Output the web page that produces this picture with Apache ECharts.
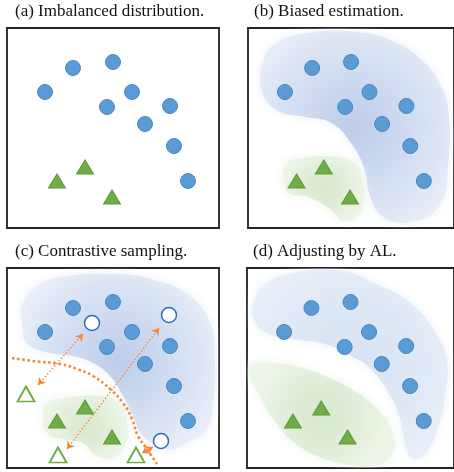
<!DOCTYPE html>
<html><head><meta charset="utf-8">
<script src="https://cdn.jsdelivr.net/npm/echarts@6/dist/echarts.min.js"></script>
<style>html,body{margin:0;padding:0;background:#fff}#c{width:454px;height:472px}</style>
</head><body><div id="c"></div>
<script>
// Panel titles
const titles = ['(a) Imbalanced distribution.', '(b) Biased estimation.', '(c) Contrastive sampling.', '(d) Adjusting by AL.'];
// Point positions (panel-relative units, y downwards)
const circles = [[66,40],[106,34],[38,64],[125,64],[100,79],[163,78],[138,96],[167,118],[181,153]];
const triangles = [[78,139],[50,153],[105,169]];
const trianglesD = [[76,140],[47,153],[103,169]];
const hollowCircles = [[85,55],[162,47],[154,173]];
const hollowTriangles = [[19,126],[51,187],[129,187]];
// Region outlines
const blueB = [[16,32],[29,15],[62,5],[112,4],[146,12],[179,32],[199,59],[206,82],[206,139],[196,179],[166,194],[139,189],[126,169],[119,139],[106,115],[86,95],[59,89],[29,82],[14,62]];
const greenB = [[39,135],[56,130],[89,129],[109,135],[117,149],[119,172],[112,189],[96,192],[86,182],[62,169],[42,165],[37,152]];
const blueC = [[16,35],[30,18],[60,8],[110,6],[143,11],[180,26],[203,55],[208,95],[206,135],[200,161],[180,175],[160,181],[136,168],[126,148],[116,128],[103,108],[86,95],[66,88],[43,85],[20,75],[15,55]];
const greenC = [[40,135],[60,130],[93,128],[113,135],[120,155],[118,178],[106,190],[90,188],[76,175],[56,171],[40,165],[36,148]];
const blueD = [[7,35],[17,18],[47,5],[97,3],[130,15],[167,35],[193,65],[205,95],[203,125],[197,155],[183,185],[170,191],[162,175],[157,151],[147,128],[127,101],[107,88],[80,76],[47,71],[20,65],[7,51]];
const greenD = [[3,98],[20,95],[47,98],[80,108],[113,125],[137,145],[150,168],[147,188],[127,198],[103,196],[80,191],[53,178],[30,155],[13,128],[3,108]];
// Decision boundary and contrast pairs in (c)
const boundary = [[5,90],[26,93],[53,96],[70,101],[86,108],[103,121],[116,135],[125,151],[131,168],[140,181],[150,196]];
const pairs = [[[76,66],[31,117]],[[152,60],[60,181]],[[146,179],[135,185]]];

const boxes = [[7,28],[248,28],[7,268],[247,268]];
const W = 212, H = 200;

const chart = echarts.init(document.getElementById('c'));
function blob(idx, pts, c0, c1, c2, z) {
  return {
    type: 'custom', xAxisIndex: idx, yAxisIndex: idx, clip: true, z: z || 1, silent: true,
    data: [0],
    renderItem: function (params, api) {
      const p = pts.map(q => api.coord(q));
      return {
        type: 'polygon',
        shape: { points: p, smooth: 0.45 },
        style: {
          fill: new echarts.graphic.RadialGradient(0.5, 0.5, 0.65, [
            { offset: 0, color: c0 }, { offset: 0.5, color: c1 }, { offset: 1, color: c2 }]),
          shadowBlur: 10, shadowColor: c2
        }
      };
    }
  };
}
const circleStyle = { color: '#5B9BD5', borderColor: '#4A87C0', borderWidth: 1, opacity: 1 };
const triStyle = { color: '#70AD47', borderColor: '#5E9A3A', borderWidth: 1, opacity: 1 };
function pts(idx, data, sym, size, style) {
  return { type: 'scatter', xAxisIndex: idx, yAxisIndex: idx, data: data, symbol: sym, symbolSize: size, itemStyle: style, z: 5, silent: true };
}
const series = [];
series.push(blob(1, blueB, '#BDCCEA', '#D3DEF2', '#ECF0F9'));
series.push(blob(1, greenB, '#D9E9CE', '#E1EED8', '#EDF5E8'));
series.push(blob(2, blueC, '#BDCCEA', '#D3DEF2', '#ECF0F9'));
series.push(blob(2, greenC, '#D9E9CE', '#E1EED8', '#EDF5E8'));
series.push(blob(3, blueD, '#D6E2F3', '#DEE8F5', '#EAF0F9'));
series.push(blob(3, greenD, '#D8E8CE', '#E0EDD8', '#EDF5E8'));
[0,1,2,3].forEach(i => {
  series.push(pts(i, circles, 'circle', 15, circleStyle));
  series.push(pts(i, i === 3 ? trianglesD : triangles, 'triangle', [17,14], triStyle));
});
series.push(pts(2, hollowCircles, 'circle', 15, { color: '#fff', borderColor: '#2E6DB0', borderWidth: 1.5, opacity: 1 }));
series.push(pts(2, hollowTriangles, 'triangle', [17,15], { color: '#fff', borderColor: '#70AD47', borderWidth: 1.8, opacity: 1 }));
series.push({ type: 'line', xAxisIndex: 2, yAxisIndex: 2, data: boundary, smooth: true, symbol: 'none', z: 4, silent: true,
  lineStyle: { color: '#F08A3C', width: 2.6, type: [2.6, 2.6] } });
series.push({ type: 'lines', coordinateSystem: 'cartesian2d', xAxisIndex: 2, yAxisIndex: 2, z: 4, silent: true,
  symbol: ['arrow', 'arrow'], symbolSize: 7,
  lineStyle: { color: '#F08A3C', width: 1.4, type: [1.5, 2], opacity: 1 },
  data: pairs.map(p => ({ coords: p })) });

chart.setOption({
  animation: false,
  title: titles.map((t, i) => ({ text: t, left: boxes[i][0] + (i % 2 === 0 ? 8 : 6), top: boxes[i][1] - 27,
    textStyle: { fontFamily: 'Liberation Serif', fontSize: 17, fontWeight: 'normal', color: '#111' }, padding: [2, 0] })),
  grid: boxes.map(b => ({ left: b[0], top: b[1], width: W, height: H, show: true, borderColor: '#222', borderWidth: 1.8, backgroundColor: '#fff' })),
  xAxis: boxes.map((b, i) => ({ type: 'value', gridIndex: i, min: 0, max: W, show: false })),
  yAxis: boxes.map((b, i) => ({ type: 'value', gridIndex: i, min: 0, max: H, inverse: true, show: false })),
  series: series
});
</script></body></html>
